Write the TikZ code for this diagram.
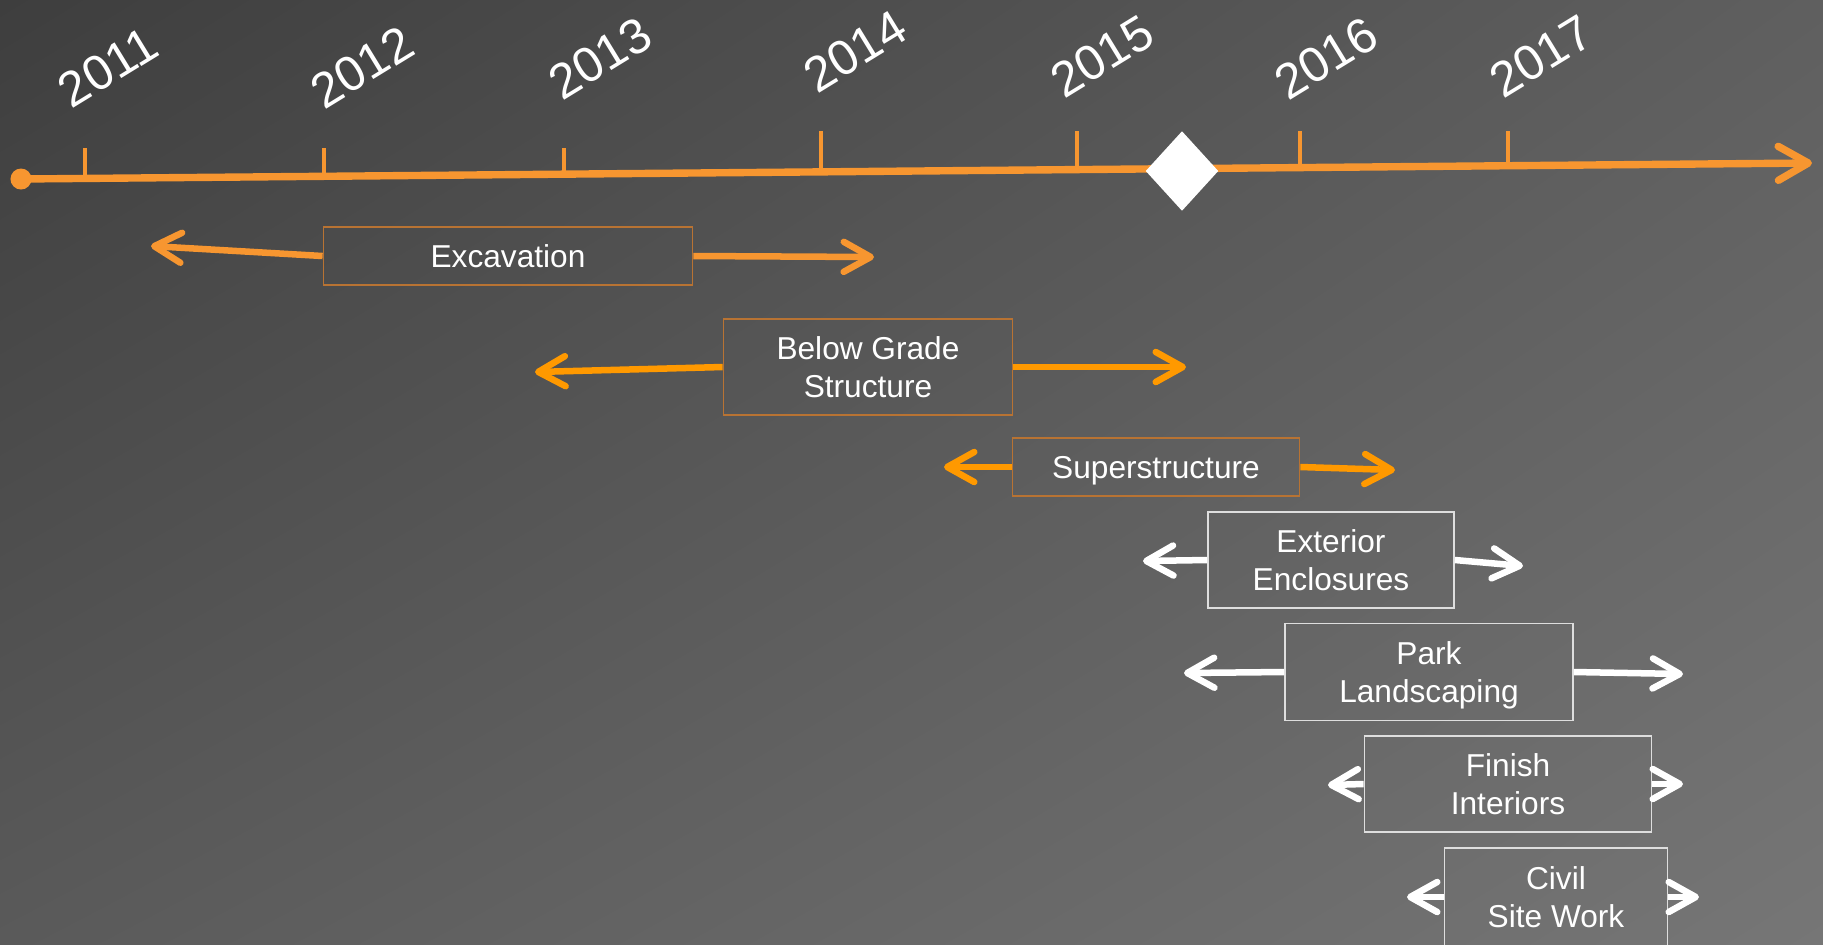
\documentclass[tikz,border=0pt]{standalone}
\usepackage{fontspec}
\setmainfont{Liberation Sans}
\usepackage{xcolor}
\usetikzlibrary{shapes.geometric, arrows.meta, positioning, shadings}

\definecolor{lineorange}{RGB}{247,150,48}
\definecolor{barorange}{RGB}{255,153,0}
\definecolor{boxorange}{RGB}{184,115,51}
\definecolor{boxwhite}{RGB}{222,222,222}
\definecolor{bgul}{RGB}{62,62,62}
\definecolor{bgur}{RGB}{95,95,95}
\definecolor{bgll}{RGB}{90,90,90}
\definecolor{bglr}{RGB}{118,118,118}

\begin{document}
\begin{tikzpicture}[x=0.01cm, y=-0.01cm,
        task/.style={draw=boxorange, line width=0.45pt, text=white, align=center,
            inner sep=0pt, font=\fontsize{9}{10.7}\selectfont,
            text height=8.15pt, text depth=1.6pt},
        twoline/.style={text height=18.85pt},
        whitetask/.style={task, draw=boxwhite},
        span/.style={line width=1.85pt, -{Straight Barb[length=0.27cm, width=0.30cm, round]}},
        year/.style={text=white, rotate=31.5, inner sep=0pt, font=\fontsize{14}{14}\selectfont}]

        % background
        \useasboundingbox (0,0) rectangle (1823,944);
        \shade[upper left=bgul, upper right=bgur, lower left=bgll, lower right=bglr] (0,0) rectangle (1823,944);

        % years and ticks
        \foreach \tx/\ty/\tb/\lx/\ly/\yr in {85/148/178/108/67/2011, 324/148/176/362/67/2012,
                564/148/174/600/58/2013, 821/131/172/855/51/2014, 1077/131/170/1102/56/2015,
                1300/131/168/1326/58/2016, 1508/131/166/1541/56/2017}{
            \draw[lineorange, line width=1.3pt] (\tx,\ty) -- (\tx,\tb);
            \node[year] (y\yr) at (\lx,\ly) {\yr};
        }

        % time line
        \node[circle, fill=lineorange, minimum size=0.21cm, inner sep=0pt] (start) at (21,179) {};
        \coordinate (end) at (1812,163);
        \draw[lineorange, line width=2.1pt, -{Straight Barb[length=0.30cm, width=0.34cm, round]}] (start.center) -- (end);
        \node[diamond, fill=white, minimum width=0.73cm, minimum height=0.80cm, inner sep=0pt] (now) at (1182,171) {};

        % tasks
        \node[task, minimum width=3.69cm, minimum height=0.58cm] (exc) at (508,256) {Excavation};
        \node[task, twoline, minimum width=2.89cm, minimum height=0.96cm] (bgs) at (868,367) {Below Grade\\Structure};
        \node[task, minimum width=2.87cm, minimum height=0.58cm] (sup) at (1156,467) {Superstructure};
        \node[whitetask, twoline, minimum width=2.46cm, minimum height=0.96cm] (ext) at (1331,560) {Exterior\\Enclosures};
        \node[whitetask, twoline, minimum width=2.88cm, minimum height=0.97cm] (park) at (1429,672) {Park\\Landscaping};
        \node[whitetask, twoline, minimum width=2.87cm, minimum height=0.96cm] (fin) at (1508,784) {Finish\\Interiors};
        \node[whitetask, twoline, minimum width=2.23cm, minimum height=0.98cm] (civ) at (1556,897) {Civil\\Site Work};

        \coordinate (excL) at (151,246);
        \coordinate (excR) at (874,257);
        \coordinate (bgsL) at (535,372);
        \coordinate (bgsR) at (1186,367);
        \coordinate (supL) at (944,467);
        \coordinate (supR) at (1395,470);
        \coordinate (extL) at (1143,561);
        \coordinate (extR) at (1523,566);
        \coordinate (parkL) at (1184,673);
        \coordinate (parkR) at (1683,674);
        \coordinate (finL) at (1328,785);
        \coordinate (finR) at (1683,784);
        \coordinate (civL) at (1407,897);
        \coordinate (civR) at (1699,897);

        \draw[span, lineorange] (exc.west) -- (excL);
        \draw[span, lineorange] (exc.east) -- (excR);
        \draw[span, barorange] (bgs.west) -- (bgsL);
        \draw[span, barorange] (bgs.east) -- (bgsR);
        \draw[span, barorange] (sup.west) -- (supL);
        \draw[span, barorange] (sup.east) -- (supR);
        \foreach \t in {ext, park, fin, civ}{
            \draw[span, white] (\t.west) -- (\t L);
            \draw[span, white] (\t.east) -- (\t R);
        }
\end{tikzpicture}
\end{document}
